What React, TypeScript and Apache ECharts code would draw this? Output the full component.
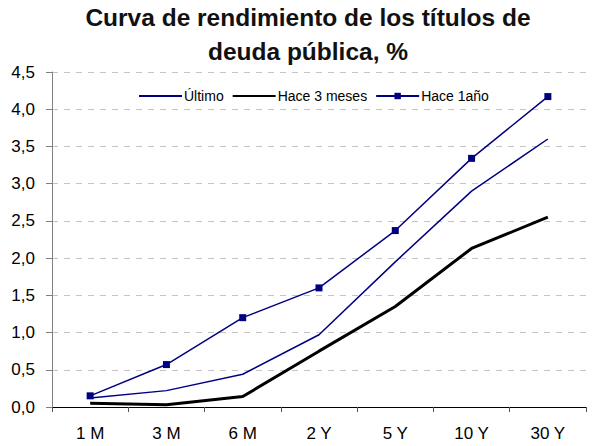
import React, { useEffect, useRef } from "react";
import * as echarts from "echarts";

const categories = ["1 M", "3 M", "6 M", "2 Y", "5 Y", "10 Y", "30 Y"];
const ultimo = [0.12, 0.22, 0.44, 0.97, 1.95, 2.9, 3.6];
const hace3Meses = [0.05, 0.03, 0.14, 0.75, 1.35, 2.13, 2.55];
const hace1Ano = [0.15, 0.57, 1.2, 1.6, 2.37, 3.34, 4.17];
const yTicks = [0, 0.5, 1, 1.5, 2, 2.5, 3, 3.5, 4, 4.5];

export default function App() {
  const ref = useRef<HTMLDivElement>(null);
  useEffect(() => {
    if (!ref.current) return;
    const chart = echarts.init(ref.current, null, { renderer: "svg" });
    const font = "Liberation Sans, Arial, sans-serif";
    chart.setOption({
      animation: false,
      backgroundColor: "#ffffff",
      title: {
        text: "Curva de rendimiento de los títulos de\ndeuda pública, %",
        left: "center",
        top: 0,
        padding: 0,
        textStyle: {
          fontFamily: font,
          fontSize: 24.5,
          fontWeight: "bold",
          color: "#111111",
          lineHeight: 34,
        },
      },
      legend: {
        top: 89,
        left: 138,
        padding: 0,
        itemWidth: 43,
        itemHeight: 8,
        itemGap: 8,
        textStyle: { fontFamily: font, fontSize: 14, color: "#000", padding: [0, 0, 0, -3] },
        data: [
          { name: "Último", itemStyle: { opacity: 0 } },
          { name: "Hace 3 meses", itemStyle: { opacity: 0 } },
          { name: "Hace 1año" },
        ],
      },
      grid: { left: 52, right: 30, top: 72, bottom: 39, containLabel: false },
      xAxis: {
        type: "category",
        data: categories,
        boundaryGap: true,
        axisLine: { lineStyle: { color: "#000", width: 1 } },
        axisTick: { show: true, alignWithLabel: false, length: 5, lineStyle: { color: "#555" } },
        axisLabel: { fontFamily: font, fontSize: 17, color: "#000", margin: 18 },
      },
      yAxis: {
        type: "value",
        min: 0,
        max: 4.5,
        interval: 0.5,
        axisLine: { show: true, lineStyle: { color: "#808080", width: 1 } },
        axisTick: { show: true, length: 6, lineStyle: { color: "#808080" } },
        axisLabel: {
          fontFamily: font,
          fontSize: 17,
          color: "#000",
          margin: 17,
          formatter: (v: number) => {
            const t = yTicks.find((x) => Math.abs(x - v) < 1e-9);
            return (t ?? v).toFixed(1).replace(".", ",");
          },
        },
        splitLine: { show: true, lineStyle: { color: "#c4c4c4", type: [6, 6], width: 1 } },
      },
      series: [
        {
          name: "Último",
          type: "line",
          data: ultimo,
          symbol: "none",
          lineStyle: { color: "#000080", width: 1.5 },
          itemStyle: { color: "#000080" },
        },
        {
          name: "Hace 3 meses",
          type: "line",
          data: hace3Meses,
          symbol: "none",
          lineStyle: { color: "#000000", width: 3 },
          itemStyle: { color: "#000000" },
        },
        {
          name: "Hace 1año",
          type: "line",
          data: hace1Ano,
          symbol: "rect",
          symbolSize: 7,
          lineStyle: { color: "#000080", width: 1.5 },
          itemStyle: { color: "#000080" },
        },
      ],
    });
    return () => chart.dispose();
  }, []);
  return (
    <div
      ref={ref}
      style={{ position: "absolute", left: 0, top: 0, width: 616, height: 446 }}
    />
  );
}
